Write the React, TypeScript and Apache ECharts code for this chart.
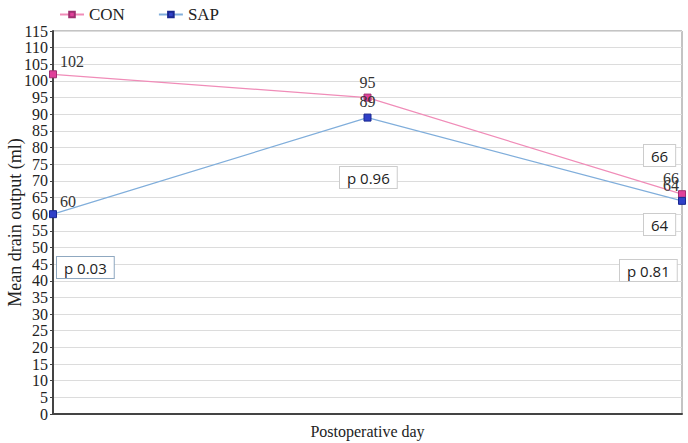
import React, { useEffect, useRef } from "react";
import * as echarts from "echarts";

const categories = ["Day 1", "Day 2", "Day 3"];
const conValues = [102, 95, 66];
const sapValues = [60, 89, 64];
const pLabels = ["p 0.03", "p 0.96", "p 0.81"];

export default function App() {
  const ref = useRef<HTMLDivElement>(null);
  useEffect(() => {
    if (!ref.current) return;
    const chart = echarts.init(ref.current, undefined, { renderer: "svg" });
    const serif = "Liberation Serif";
    const sans = "Open Sans";
    const boxText = (x: number, y: number, text: string, border = "#cccccc") => ({
      type: "text",
      left: x,
      top: y,
      style: {
        text,
        font: `15px '${sans}'`,
        fill: "#222",
        backgroundColor: "#fff",
        borderColor: border,
        borderWidth: 1,
        padding: [3, 7, 3, 7],
      },
      z: 10,
    });
    chart.setOption({
      animation: false,
      backgroundColor: "#fff",
      grid: {
        left: 53,
        right: 6,
        top: 31,
        bottom: 29,
        show: true,
        borderColor: "#888",
        borderWidth: 1,
        containLabel: false,
        outerBoundsMode: "none",
      },
      legend: {
        left: 54,
        top: 1,
        itemGap: 33,
        itemWidth: 24,
        itemHeight: 7,
        textStyle: { fontFamily: serif, fontSize: 17, color: "#222" },
        data: ["CON", "SAP"],
      },
      xAxis: {
        type: "category",
        data: categories,
        boundaryGap: false,
        name: "Postoperative day",
        nameLocation: "middle",
        nameGap: 9,
        nameTextStyle: { fontFamily: serif, fontSize: 16, color: "#222" },
        axisLine: { lineStyle: { color: "#444", width: 2 } },
        axisTick: { show: false },
        axisLabel: { show: false },
        splitLine: { show: false },
      },
      yAxis: {
        type: "value",
        min: 0,
        max: 115,
        interval: 5,
        name: "Mean drain output (ml)",
        nameLocation: "middle",
        nameGap: 29,
        nameMoveOverlap: false,
        nameTextStyle: { fontFamily: serif, fontSize: 18, color: "#222" },
        axisLine: { show: true, lineStyle: { color: "#444", width: 2 } },
        axisTick: { show: true, length: 3, lineStyle: { color: "#444" } },
        axisLabel: { fontFamily: serif, fontSize: 16, color: "#222", margin: 5 },
        splitLine: { lineStyle: { color: "#dcdcdc" } },
      },
      series: [
        {
          name: "CON",
          type: "line",
          data: conValues.map((v, i) => ({
            value: v,
            label:
              i === 0
                ? { position: "right", offset: [-2, -13] }
                : i === 2
                ? { position: "top", offset: [-11, 1] }
                : { position: "top", offset: [0, 2] },
          })),
          symbol: "rect",
          symbolSize: 7,
          lineStyle: { color: "#f08cb8", width: 1.2 },
          itemStyle: { color: "#e0409a", borderColor: "#a03070", borderWidth: 1 },
          label: { show: true, fontFamily: serif, fontSize: 16, color: "#333" },
        },
        {
          name: "SAP",
          type: "line",
          data: sapValues.map((v, i) => ({
            value: v,
            label:
              i === 0
                ? { position: "right", offset: [-2, -13] }
                : i === 2
                ? { position: "top", offset: [-11, 2] }
                : { position: "top", offset: [0, 1] },
          })),
          symbol: "rect",
          symbolSize: 7,
          lineStyle: { color: "#80aedb", width: 1.2 },
          itemStyle: { color: "#3040c8", borderColor: "#1a2890", borderWidth: 1 },
          label: { show: true, fontFamily: serif, fontSize: 16, color: "#333" },
        },
      ],
      graphic: [
        boxText(56, 256, pLabels[0], "#8fa8c0"),
        boxText(339, 166, pLabels[1]),
        boxText(619, 259, pLabels[2]),
        boxText(643, 144, String(conValues[2])),
        boxText(643, 213, String(sapValues[2])),
      ],
    });
    return () => chart.dispose();
  }, []);
  return <div ref={ref} style={{ position: "fixed", left: 0, top: 0, width: 688, height: 443 }} />;
}
